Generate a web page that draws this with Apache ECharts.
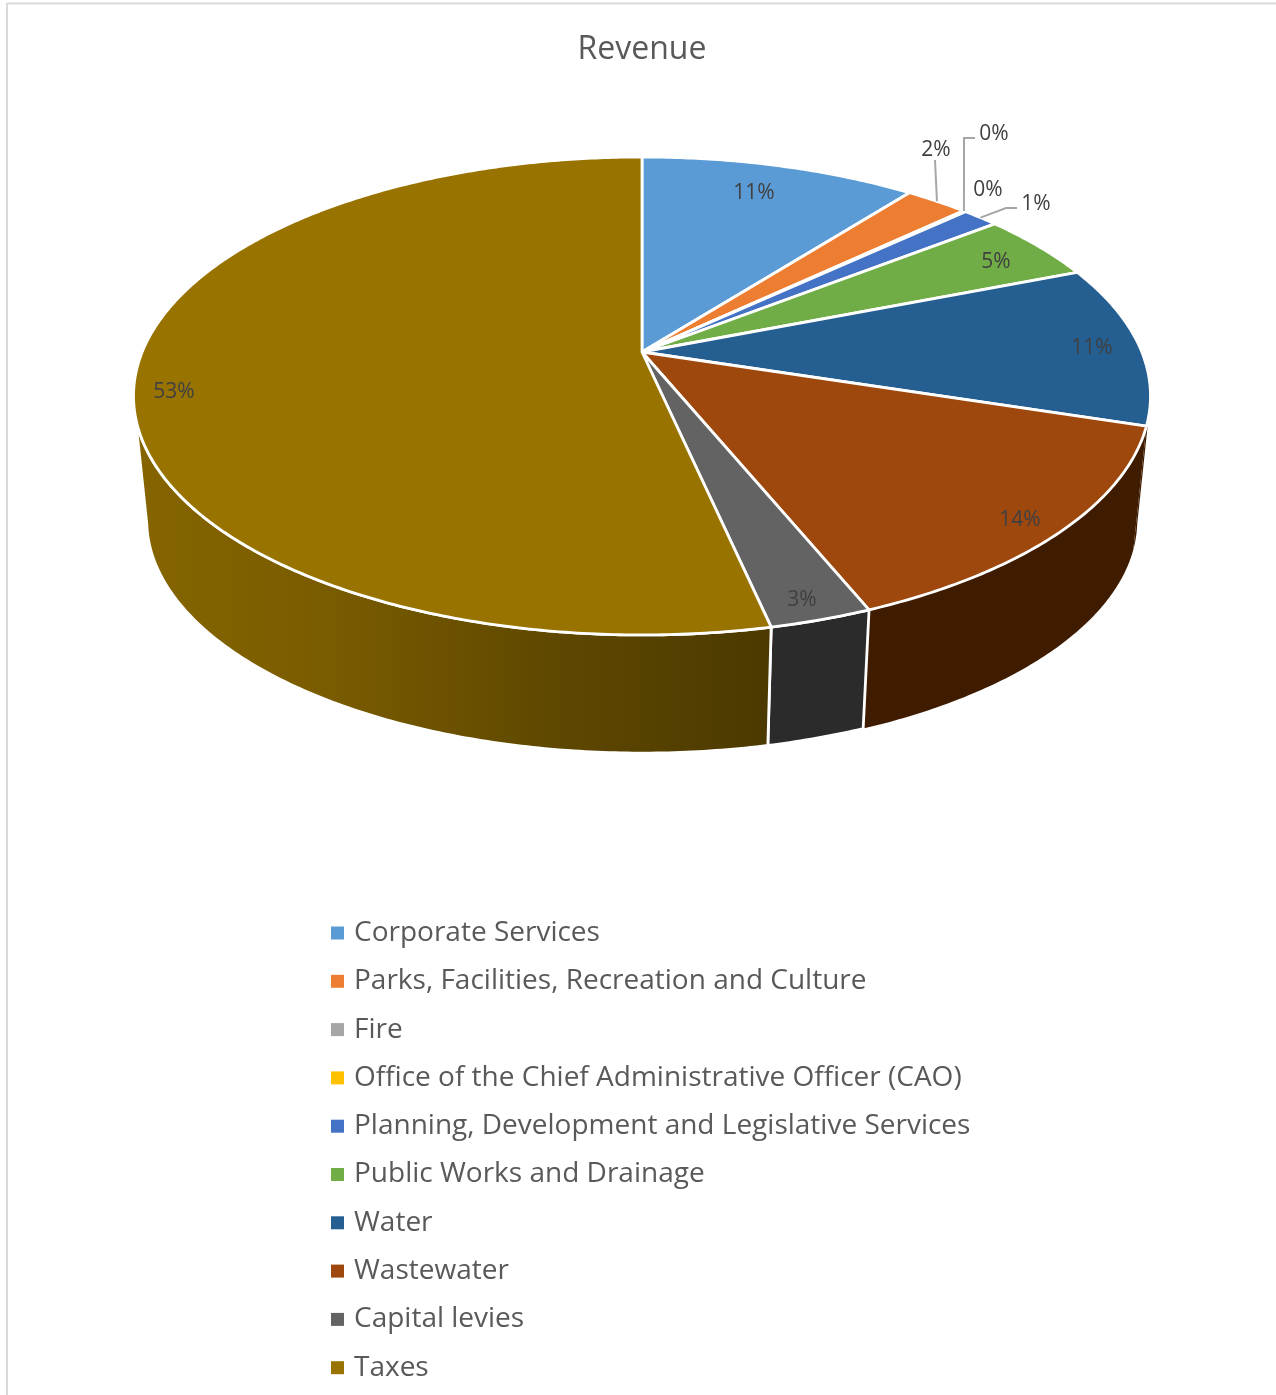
<!DOCTYPE html>
<html><head><meta charset="utf-8"><title>Revenue</title>
<style>html,body{margin:0;padding:0;background:#fff}#c{width:1276px;height:1395px}</style>
<script src="https://cdn.jsdelivr.net/npm/echarts@6/dist/echarts.min.js"></script></head>
<body><div id="c"></div>
<script>
const categories = ['Corporate Services','Parks, Facilities, Recreation and Culture','Fire','Office of the Chief Administrative Officer (CAO)','Planning, Development and Legislative Services','Public Works and Drainage','Water','Wastewater','Capital levies','Taxes'];
const values = [10.5,2.4,0.05,0.05,1.4,4.6,10.9,13.95,2.75,53.4];
const percentLabels = ['11%','2%','0%','0%','1%','5%','11%','14%','3%','53%'];
const topColors = ['#5b9bd5','#ed7d31','#a5a5a5','#ffc000','#4472c4','#70ad47','#255e91','#9e480e','#636363','#997300'];
const wallColors = ['#375e81','#8f4b1d','#646464','#9b7400','#294577','#44692b','#3f1c00','#3f1c00','#2b2b2b',null];

// Annotation layout (label centres in page pixels; leader = elbow points after the rim anchor)
const labelCentres = [[754,193],[936,150],[994,134],[988,190],[1036,204],[996,262],[1092,348],[1020,520],[802,600],[174,392]];
const leaders = [null,[[935,160]],[[964,138],[975,138]],null,[[1006,208],[1017,208]],null,null,null,null,null];

// Perspective disc projection
const APEX = [642,352], A = 499.8, B = 230.9, K = 0.184;
const DEPTH_DROP = 125.5, DEPTH_SCALE = 0.974, FRONT_V = -0.20;
function project(theta, r, lower) {
  const u = r*Math.sin(theta), v = r*Math.cos(theta), d = 1 + K*v;
  let x = A*u/d, y = -B*v/d;
  if (lower) { x *= DEPTH_SCALE; y = y*DEPTH_SCALE + DEPTH_DROP; }
  return [APEX[0]+x, APEX[1]+y];
}
const total = values.reduce((a,b)=>a+b,0);
const starts = []; values.reduce((acc,v,i)=>{starts[i]=acc; return acc+v;},0);
const toAngle = p => p/total*2*Math.PI;
function arc(a0,a1,lower) {
  const n = Math.max(2,Math.ceil((a1-a0)/0.01)), pts=[];
  for (let i=0;i<=n;i++) pts.push(project(a0+(a1-a0)*i/n,1,lower));
  return pts;
}
const frontMin = Math.acos(FRONT_V), frontMax = 2*Math.PI-frontMin;

function wallFill(i){
  if (wallColors[i]) return wallColors[i];
  return new echarts.graphic.LinearGradient(0,0,1,0,[
    {offset:0,color:'#866500'},{offset:0.3,color:'#7a5c00'},{offset:0.65,color:'#5f4800'},{offset:1,color:'#4b3900'}]);
}
const wallSeries = categories.map((c,i)=>({
  name:'wall '+c, type:'custom', coordinateSystem:'none', silent:true, z:1, animation:false,
  data:[[values[i],starts[i]]],
  renderItem(params,api){
    const a0 = toAngle(api.value(1)), a1 = toAngle(api.value(1)+api.value(0));
    const s = Math.max(a0,frontMin), e = Math.min(a1,frontMax);
    if (e<=s) return {type:'group',children:[]};
    const points = arc(s,e,false).concat(arc(s,e,true).reverse());
    const outlined = i >= 8;
    return {type:'polygon',shape:{points},style:{fill:wallFill(i),stroke:outlined?'#fff':null,lineWidth:outlined?2.8:0,lineJoin:'round'}};
  }
}));
const topSeries = categories.map((c,i)=>({
  name:c, type:'custom', coordinateSystem:'none', silent:true, z:2, animation:false,
  itemStyle:{color:topColors[i]},
  data:[[values[i],starts[i]]],
  renderItem(params,api){
    const a0 = toAngle(api.value(1)), a1 = toAngle(api.value(1)+api.value(0));
    const points = [APEX.slice()].concat(arc(a0,a1,false));
    return {type:'polygon',shape:{points},style:{fill:topColors[i],stroke:'#fff',lineWidth:2.8,lineJoin:'round'}};
  }
}));
const labelSeries = {
  name:'labels', type:'custom', coordinateSystem:'none', silent:true, z:3, animation:false,
  data: categories.map((c,i)=>[i,values[i],starts[i]]),
  renderItem(params,api){
    const i = api.value(0), children=[];
    if (leaders[i]) {
      const anchor = project(toAngle(api.value(2)+api.value(1)/2),1,false);
      children.push({type:'polyline',shape:{points:[anchor].concat(leaders[i])},style:{fill:'none',stroke:'#a6a6a6',lineWidth:2}});
    }
    children.push({type:'text',style:{text:percentLabels[i],x:labelCentres[i][0],y:labelCentres[i][1],align:'center',verticalAlign:'middle',font:'21px "Open Sans"',fill:'#404040'}});
    return {type:'group',children};
  }
};
const chart = echarts.init(document.getElementById('c'),null,{renderer:'canvas'});
chart.setOption({
  animation:false, backgroundColor:'#fff',
  title:{text:'Revenue',left:637,top:29,textAlign:'center',textStyle:{fontFamily:'Open Sans',fontSize:32,fontWeight:'normal',color:'#595959'}},
  legend:{orient:'vertical',left:331,top:913,data:categories,icon:'rect',itemWidth:13,itemHeight:13,itemGap:8.3,padding:0,
    selectedMode:false,textStyle:{fontFamily:'Open Sans',fontSize:28,lineHeight:40,color:'#595959',padding:[0,0,0,5]}},
  graphic:[
    {type:'line',silent:true,shape:{x1:7,y1:3.5,x2:1276,y2:3.5},style:{stroke:'#d9d9d9',lineWidth:2}},
    {type:'line',silent:true,shape:{x1:7,y1:3,x2:7,y2:1395},style:{stroke:'#d9d9d9',lineWidth:2}}
  ],
  series:[...wallSeries,...topSeries,labelSeries]
});
</script></body></html>
